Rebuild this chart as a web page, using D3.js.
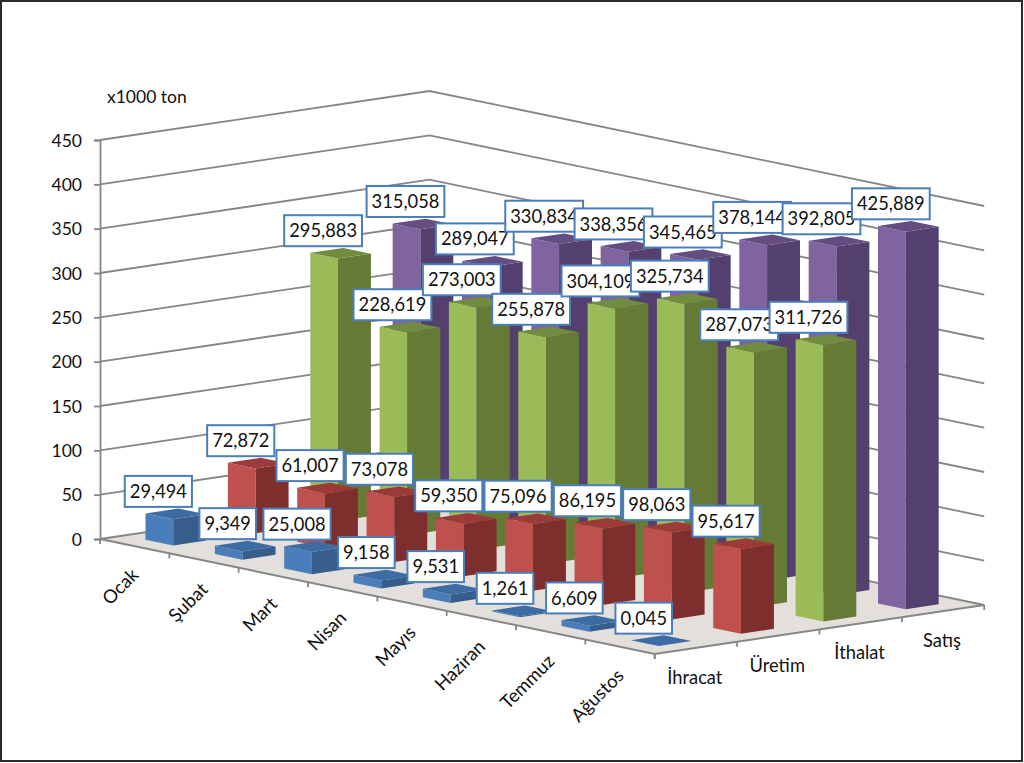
<!DOCTYPE html>
<html><head><meta charset="utf-8">
<script src="https://cdn.jsdelivr.net/npm/d3@7"></script>
<style>html,body{margin:0;padding:0;background:#fff}svg{display:block}text{font-family:Lato,"Open Sans",sans-serif;fill:#111}</style>
</head><body><div id="c"></div>
<script>
const months = ["Ocak","Şubat","Mart","Nisan","Mayıs","Haziran","Temmuz","Ağustos"];
const seriesNames = ["İhracat","Üretim","İthalat","Satış"];
const ihracat = [29.494,9.349,25.008,9.158,9.531,1.261,6.609,0.045];
const uretim = [72.872,61.007,73.078,59.350,75.096,86.195,98.063,95.617];
const ithalat = [295.883,228.619,273.003,255.878,304.109,325.734,287.073,311.726];
const satis = [315.058,289.047,330.834,338.356,345.465,378.144,392.805,425.889];
const seriesValues = [ihracat,uretim,ithalat,satis];
const faceColors = [
  {front:"#4a7ebb",side:"#375d8c",top:"#3d6ca4"},
  {front:"#c0504d",side:"#7e2f2d",top:"#9b3a38"},
  {front:"#9bbb59",side:"#657a35",top:"#728c3f"},
  {front:"#8063a1",side:"#54406e",top:"#644d80"}
];
const W=1024,H=763;
const origin={x:100,y:539};                 // left floor corner
const monthVec={x:554.7,y:115};             // along month axis
const seriesVec={x:329.5,y:-49};            // along series axis
const yTop=140;

const mScale=d3.scaleBand().domain(months).range([0,1]).paddingInner(0.6).paddingOuter(0.3);
const sScale=d3.scaleBand().domain(seriesNames).range([0,1]).paddingInner(0.6).paddingOuter(0.3);
const vScale=d3.scaleLinear().domain([0,450]).range([origin.y,yTop]);
const h=v=>origin.y-vScale(v);
const proj=(m,s,v=0)=>[origin.x+m*monthVec.x+s*seriesVec.x, origin.y+m*monthVec.y+s*seriesVec.y-h(v)];
const locale=d3.formatLocale({decimal:",",thousands:".",grouping:[3],currency:["",""]});
const fmt=locale.format(".3f");

const svg=d3.select("#c").append("svg").attr("width",W).attr("height",H);
svg.append("rect").attr("x",1).attr("y",1).attr("width",1021).attr("height",760).attr("fill","#fff").attr("stroke","#2b2b2b").attr("stroke-width",2);

const path=d3.line();
const axisColor="#868686";
// floor
svg.append("path").attr("d",path([proj(0,0),proj(1,0),proj(1,1),proj(0,1)])+"Z").attr("fill","#e3dfda");
// gridlines on the walls
const ticks=vScale.ticks(9);
svg.append("g").selectAll("path").data(ticks).join("path")
  .attr("d",v=>path([proj(0,0,v),proj(0,1,v),proj(1,1,v)]))
  .attr("fill","none").attr("stroke",axisColor).attr("stroke-width",1.8);
// value axis
const yAxis=svg.append("g").attr("transform",`translate(${origin.x},0)`).call(d3.axisLeft(vScale).tickValues(ticks).tickSize(6).tickPadding(12).tickFormat(d3.format("d")));
yAxis.selectAll("path,line").attr("stroke",axisColor).attr("stroke-width",1.8);
yAxis.selectAll("text").style("font-size","17.5px").attr("fill","#111").attr("dy","0.36em");
// floor axes + ticks
svg.append("path").attr("d",path([proj(0,0),proj(1,0),proj(1,1)])).attr("fill","none").attr("stroke",axisColor).attr("stroke-width",2);
const mStep=mScale.step(), sStep=sScale.step();
const mTicks=d3.range(months.length+1).map(i=>i*mStep), sTicks=d3.range(seriesNames.length+1).map(i=>i*sStep);
svg.append("g").selectAll("line").data(mTicks).join("line")
  .attr("x1",d=>proj(d,0)[0]).attr("y1",d=>proj(d,0)[1]).attr("x2",d=>proj(d,0)[0]).attr("y2",d=>proj(d,0)[1]+5)
  .attr("stroke",axisColor).attr("stroke-width",1.8);
svg.append("g").selectAll("line").data(sTicks).join("line")
  .attr("x1",d=>proj(1,d)[0]).attr("y1",d=>proj(1,d)[1]).attr("x2",d=>proj(1,d)[0]).attr("y2",d=>proj(1,d)[1]+5)
  .attr("stroke",axisColor).attr("stroke-width",1.8);

// bars, far series first, then first month to last
const cells=[];
for(let si=seriesNames.length-1;si>=0;si--) months.forEach((mn,mi)=>cells.push({si,mi,mn,sn:seriesNames[si],v:seriesValues[si][mi]}));
const bars=svg.append("g").selectAll("g").data(cells).join("g");
const m0=d=>mScale(d.mn), m1=d=>mScale(d.mn)+mScale.bandwidth(), s0=d=>sScale(d.sn), s1=d=>sScale(d.sn)+sScale.bandwidth();
bars.append("path").attr("d",d=>path([proj(m0(d),s0(d),d.v),proj(m1(d),s0(d),d.v),proj(m1(d),s0(d)),proj(m0(d),s0(d))])+"Z").attr("fill",d=>faceColors[d.si].front);
bars.append("path").attr("d",d=>path([proj(m1(d),s0(d),d.v),proj(m1(d),s1(d),d.v),proj(m1(d),s1(d)),proj(m1(d),s0(d))])+"Z").attr("fill",d=>faceColors[d.si].side);
bars.append("path").attr("d",d=>path([proj(m0(d),s0(d),d.v),proj(m1(d),s0(d),d.v),proj(m1(d),s1(d),d.v),proj(m0(d),s1(d),d.v)])+"Z").attr("fill",d=>faceColors[d.si].top);

// month labels
svg.append("g").selectAll("text").data(months).join("text")
  .text(d=>d).style("font-size","18.5px").attr("text-anchor","end")
  .attr("transform",d=>{const p=proj(mScale(d)+mScale.bandwidth()/2,0);return `translate(${p[0]+5},${p[1]+30}) rotate(-45)`;});
// series labels
svg.append("g").selectAll("text").data(seriesNames).join("text")
  .text(d=>d).style("font-size","18.3px").attr("text-anchor","middle")
  .attr("x",d=>proj(1,sScale(d)+sScale.bandwidth()/2)[0]-1)
  .attr("y",d=>proj(1,sScale(d)+sScale.bandwidth()/2)[1]+36);
// unit
svg.append("text").text("x1000 ton").attr("x",107).attr("y",103).style("font-size","17.5px");

// data labels
const labels=svg.append("g").selectAll("g").data(cells).join("g")
  .attr("transform",d=>{const p=proj(m0(d)+mScale.bandwidth()/2,s0(d)+sScale.bandwidth()/2,d.v);return `translate(${p[0]-17.5},${p[1]-22.5})`;});
labels.append("rect");
labels.append("text").text(d=>fmt(d.v)).attr("text-anchor","middle").attr("dy","0.36em").style("font-size","18.3px");
labels.each(function(){
  const g=d3.select(this), w=g.select("text").node().getComputedTextLength()+10;
  g.select("rect").attr("x",-w/2).attr("y",-15.5).attr("width",w).attr("height",31).attr("fill","#fff").attr("stroke","#4a7ebb").attr("stroke-width",2);
});
</script></body></html>
